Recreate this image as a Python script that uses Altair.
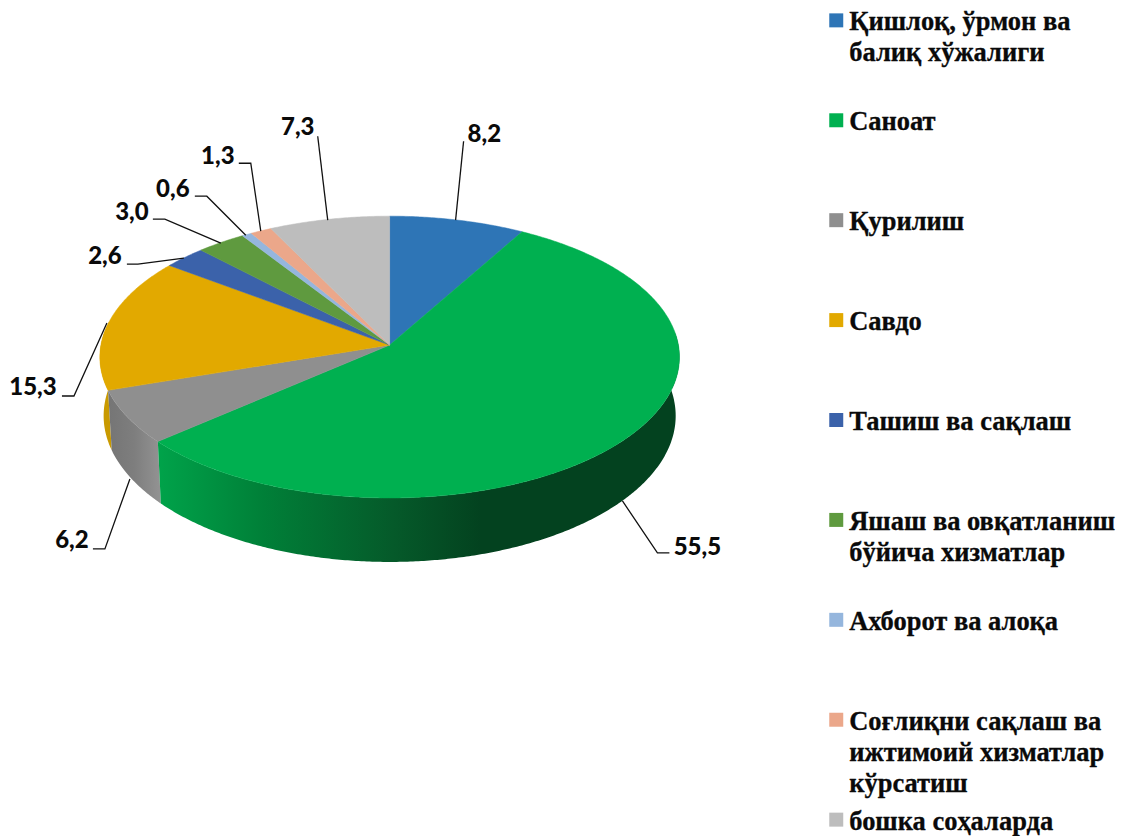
import math
import altair as alt
import pandas as pd

# ---- chart values ----
categories = ["Қишлоқ, ўрмон ва\nбалиқ хўжалиги", "Саноат", "Қурилиш", "Савдо", "Ташиш ва сақлаш",
              "Яшаш ва овқатланиш\nбўйича хизматлар", "Ахборот ва алоқа",
              "Соғлиқни сақлаш ва\nижтимоий хизматлар\nкўрсатиш", "бошка соҳаларда"]
values = [8.2, 55.5, 6.2, 15.3, 2.6, 3.0, 0.6, 1.3, 7.3]
value_labels = ["8,2", "55,5", "6,2", "15,3", "2,6", "3,0", "0,6", "1,3", "7,3"]
colors = ["#2e75b6", "#00b050", "#8f8f8f", "#e2a900", "#3b62aa", "#5f9a3f", "#95b6dd", "#eba78a", "#bdbdbd"]

# ---- layout (page pixels) ----
CX, CY, A, B, K = 390.0, 345.0, 289.0, 140.0, 0.0851
BASE_XS, BASE_YS, BASE_YD = 0.987, 1.037, 45.6
label_pos = [(468, 135, "left"), (698, 548, "center"), (72, 541, "center"), (33, 388, "center"),
             (105, 257, "center"), (132, 213, "center"), (173, 190, "center"), (218, 157, "center"), (298, 128, "center")]
leaders = [[(464, 141), (456, 220)],
           [(670, 553), (658, 553), (623, 501)],
           [(93, 549), (105, 549), (130, 479)],
           [(62, 396), (74, 396), (107, 323)],
           [(127, 264), (138, 264), (184, 258)],
           [(153, 219), (165, 219), (221, 243)],
           [(195, 196), (207, 196), (246, 235)],
           [(239, 163), (251, 163), (261, 231)],
           [(318, 136), (328, 220)]]
legend_y = [20, 120, 220, 320, 420, 520, 620, 720, 820]


def project(deg):
    t = math.radians(deg)
    w = 1 + K * math.cos(t)
    return CX + A * math.sin(t) / w, CY - B * math.cos(t) / w


total = sum(values)
bounds = [0.0]
for v in values:
    bounds.append(bounds[-1] + v / total * 360)

# top face polygons
face = []
for i, cat in enumerate(categories):
    a0, a1 = bounds[i], bounds[i + 1]
    n = max(4, int((a1 - a0) * 2))
    pts = [(CX, CY)] + [project(a0 + (a1 - a0) * j / n) for j in range(n + 1)] + [(CX, CY)]
    for o, (x, y) in enumerate(pts):
        face.append({"s": i, "o": o, "x": x, "y": y})
face_df = pd.DataFrame(face)


def wall(i, start=None, end=None):
    """Closed outline of the side wall under one slice's front rim."""
    a0 = bounds[i] if start is None else start
    a1 = bounds[i + 1] if end is None else end
    n = max(8, int((a1 - a0) * 2))
    rim = [project(a0 + (a1 - a0) * j / n) for j in range(n + 1)]
    base = [(CX + BASE_XS * (x - CX), BASE_YS * y + BASE_YD) for x, y in rim]
    pts = rim + base[::-1] + [rim[0]]
    return pd.DataFrame([{"o": o, "x": x, "y": y} for o, (x, y) in enumerate(pts)])


X = alt.Scale(domain=[8, 1116], range=[0, 1108], nice=False, zero=False)
Y = alt.Scale(domain=[8, 829], range=[0, 821], nice=False, zero=False)


def xe(f="x"):
    return alt.X(f"{f}:Q", scale=X, axis=None)


def ye(f="y"):
    return alt.Y(f"{f}:Q", scale=Y, axis=None)


def grad(stops):
    return alt.Gradient(gradient="linear", x1=0, x2=1, y1=0, y2=0,
                        stops=[alt.GradientStop(offset=o, color=c) for o, c in stops])


wall_green = alt.Chart(wall(1, start=85)).mark_line(
    strokeWidth=0, fill=grad([(0, "#00a34a"), (0.2, "#008038"), (0.45, "#055a2a"), (0.62, "#03421f"), (1, "#03421f")])
).encode(x=xe(), y=ye(), order="o:Q")
wall_gray = alt.Chart(wall(2)).mark_line(
    strokeWidth=0, fill=grad([(0, "#757575"), (0.5, "#7e7e7e"), (1, "#939393")])
).encode(x=xe(), y=ye(), order="o:Q")
wall_yellow = alt.Chart(wall(3, end=280)).mark_line(
    strokeWidth=0, fill="#c99a00"
).encode(x=xe(), y=ye(), order="o:Q")

top = alt.Chart(face_df).mark_line(strokeWidth=0.5, interpolate="linear").encode(
    x=xe(), y=ye(), order="o:Q",
    detail="s:N",
    fill=alt.Fill("s:N", scale=alt.Scale(domain=list(range(9)), range=colors), legend=None),
    stroke=alt.Stroke("s:N", scale=alt.Scale(domain=list(range(9)), range=colors), legend=None),
)

lead_rows = []
for i, pts in enumerate(leaders):
    for o, (x, y) in enumerate(pts):
        lead_rows.append({"s": i, "o": o, "x": x, "y": y})
lead = alt.Chart(pd.DataFrame(lead_rows)).mark_line(color="#111111", strokeWidth=1.3).encode(
    x=xe(), y=ye(), detail="s:N", order="o:Q")

lab_df = pd.DataFrame([{"x": p[0], "y": p[1], "a": p[2], "t": t} for p, t in zip(label_pos, value_labels)])
lab_layers = []
for al in ["left", "center"]:
    lab_layers.append(alt.Chart(lab_df[lab_df.a == al]).mark_text(
        font="Lato", fontWeight=900, fontSize=24, align=al, baseline="middle", color="#0a0a0a"
    ).encode(x=xe(), y=ye(), text="t:N"))

sq_df = pd.DataFrame({"x": [837] * 9, "y": legend_y, "c": colors})
squares = alt.Chart(sq_df).mark_square(size=196, opacity=1).encode(
    x=xe(), y=ye(), fill=alt.Fill("c:N", scale=None), stroke=alt.value(None))

rows = []
for y0, cat in zip(legend_y, categories):
    for j, line in enumerate(cat.split("\n")):
        rows.append({"x": 850, "y": y0 + 2 + j * 31, "t": line})
leg_text = alt.Chart(pd.DataFrame(rows)).mark_text(
    font="Liberation Serif", fontWeight="bold", fontSize=26.5, align="left", baseline="middle", color="#0a0a0a",
    stroke="#0a0a0a", strokeWidth=0.3
).encode(x=xe(), y=ye(), text="t:N")

chart = alt.layer(wall_yellow, wall_gray, wall_green, top, lead, *lab_layers, squares, leg_text).properties(
    width=1108, height=821, padding=0
).configure_view(stroke=None).resolve_scale(fill="independent", stroke="independent")

chart.save("out.html", embed_options={"renderer": "svg", "actions": False})
